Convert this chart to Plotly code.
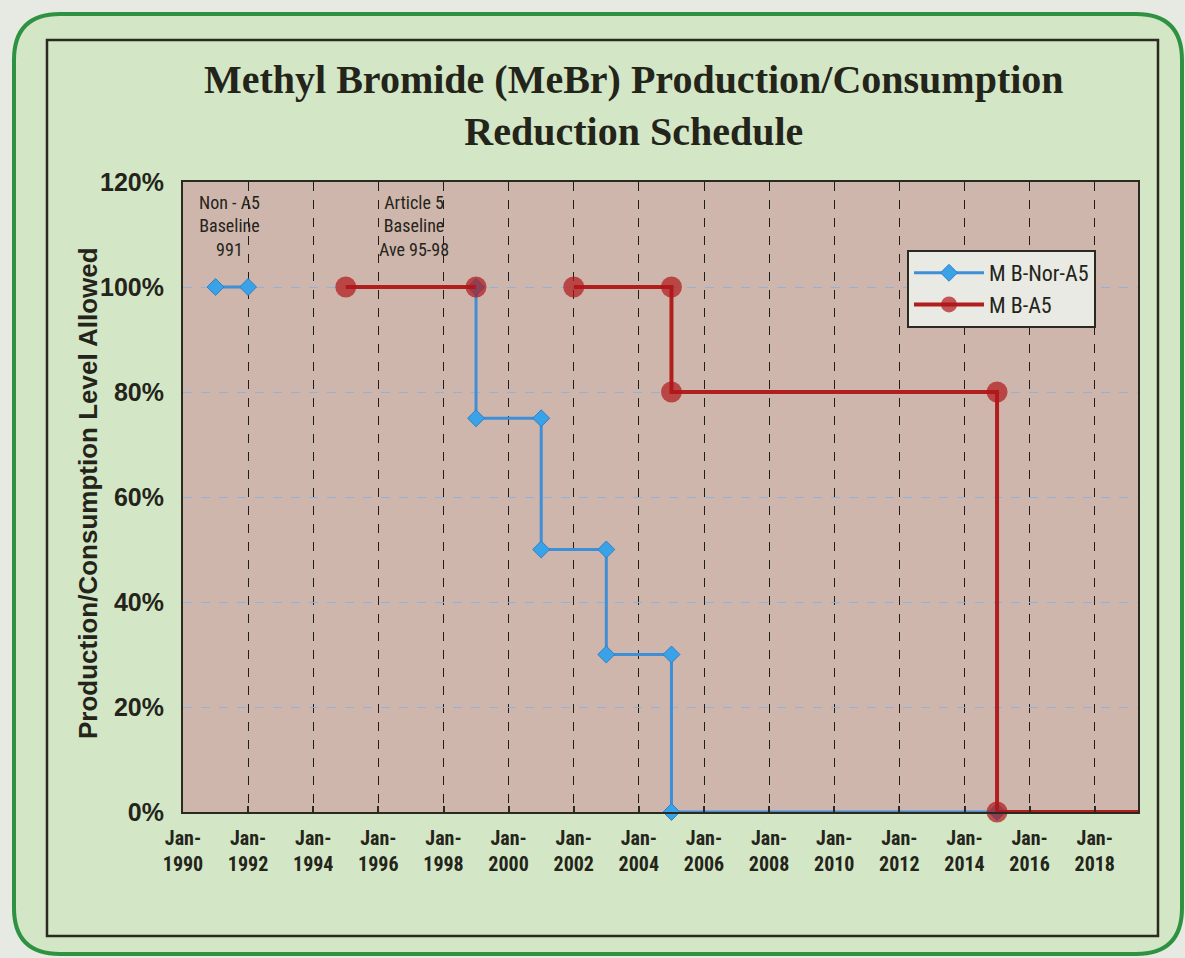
import plotly.graph_objects as go

# --- data -------------------------------------------------------------
non_a5_dates = ["1991-01-01", "1992-01-01", None,
                "1999-01-01", "1999-01-01", "2001-01-01", "2001-01-01",
                "2003-01-01", "2003-01-01", "2005-01-01", "2005-01-01",
                "2015-01-01"]
non_a5_level = [1.00, 1.00, None,
                1.00, 0.75, 0.75, 0.50,
                0.50, 0.30, 0.30, 0.00,
                0.00]

a5_dates = ["1995-01-01", "1999-01-01", None,
            "2002-01-01", "2005-01-01", "2005-01-01",
            "2015-01-01", "2015-01-01", "2019-05-01"]
a5_level = [1.00, 1.00, None,
            1.00, 1.00, 0.80,
            0.80, 0.00, 0.00]

tick_dates = ["%d-01-01" % y for y in range(1990, 2019, 2)]
tick_text = ["<b>Jan-<br>%d</b>" % y for y in range(1990, 2019, 2)]
y_ticks = [0, 0.2, 0.4, 0.6, 0.8, 1.0, 1.2]
y_text = ["0%", "20%", "40%", "60%", "80%", "100%", "120%"]

# --- geometry (pixels) ------------------------------------------------
FW, FH = 1185, 958
L, T, W, H = 183, 182, 955, 630


def px(x):
    return (x - L) / W


def py(y):
    return (T + H - y) / H


def rrect(x0, y0, x1, y1, r):
    pts = [
        ("M", [(x0 + r, y0)]), ("L", [(x1 - r, y0)]), ("Q", [(x1, y0), (x1, y0 + r)]),
        ("L", [(x1, y1 - r)]), ("Q", [(x1, y1), (x1 - r, y1)]),
        ("L", [(x0 + r, y1)]), ("Q", [(x0, y1), (x0, y1 - r)]),
        ("L", [(x0, y0 + r)]), ("Q", [(x0, y0), (x0 + r, y0)]),
    ]
    s = ""
    for cmd, coords in pts:
        s += cmd + " " + " ".join("%.5f,%.5f" % (px(a), py(b)) for a, b in coords) + " "
    return s + "Z"


NARROW = "Liberation Sans Narrow, Arial Narrow, Roboto Condensed, DejaVu Sans Condensed, sans-serif"
SANS = "Liberation Sans, Arial, sans-serif"
INK = "#24241a"

fig = go.Figure()

fig.add_trace(go.Scatter(
    x=non_a5_dates, y=non_a5_level, name="M B-Nor-A5",
    mode="lines+markers", connectgaps=False, cliponaxis=False,
    line=dict(color="#3f8ed8", width=3),
    marker=dict(symbol="diamond", size=13, color="#3aa2e6",
                line=dict(color="#2f7fc8", width=1)),
))

a5_sizes = [21, 21, 0, 21, 21, 21, 21, 21, 0]
fig.add_trace(go.Scatter(
    x=a5_dates, y=a5_level, name="M B-A5",
    mode="lines+markers", connectgaps=False, cliponaxis=False,
    line=dict(color="#b01e1e", width=4),
    marker=dict(symbol="circle", size=a5_sizes, color="#b0161a",
                line=dict(width=0)),
))

shapes = [
    # rounded green panel
    dict(type="path", xref="paper", yref="paper", layer="below",
         path=rrect(14, 14, 1182, 954, 46),
         fillcolor="#d3e7c6", line=dict(color="#2f9242", width=4)),
    # inner black frame
    dict(type="rect", xref="paper", yref="paper", layer="below",
         x0=px(47), x1=px(1158), y0=py(936), y1=py(40),
         fillcolor="rgba(0,0,0,0)", line=dict(color="#2a2a20", width=2.5)),
    # plot area fill
    dict(type="rect", xref="paper", yref="paper", layer="below",
         x0=0, x1=1, y0=0, y1=1,
         fillcolor="#cfb6ac", line=dict(width=0)),
]

annotations = [
    dict(text="<b>Methyl Bromide (MeBr) Production/Consumption<br>Reduction Schedule</b>",
         xref="paper", yref="paper", x=px(634), y=py(105),
         xanchor="center", yanchor="middle", showarrow=False,
         font=dict(family="Liberation Serif, Times New Roman, serif", size=40, color=INK)),
    dict(text="<b>Production/Consumption Level Allowed</b>",
         xref="paper", yref="paper", x=px(88), y=py(493), textangle=-90,
         xanchor="center", yanchor="middle", showarrow=False,
         font=dict(family=SANS, size=26, color=INK)),
    dict(text="Non - A5<br>Baseline<br>991",
         xref="paper", yref="paper", x=px(229), y=py(226),
         xanchor="center", yanchor="middle", showarrow=False,
         font=dict(family=NARROW, size=18, color=INK)),
    dict(text="Article 5<br>Baseline<br>Ave 95-98",
         xref="paper", yref="paper", x=px(414), y=py(226),
         xanchor="center", yanchor="middle", showarrow=False,
         font=dict(family=NARROW, size=18, color=INK)),
]

fig.update_layout(
    width=FW, height=FH,
    margin=dict(l=L, r=FW - L - W, t=T, b=FH - T - H),
    paper_bgcolor="#e7eae2", plot_bgcolor="rgba(0,0,0,0)",
    shapes=shapes, annotations=annotations,
    showlegend=True,
    legend=dict(x=px(907), y=py(250), xanchor="left", yanchor="top",
                bgcolor="#e9eae4", bordercolor="#2a2a20", borderwidth=2,
                font=dict(family=NARROW, size=22, color=INK),
                itemwidth=70, tracegroupgap=0),
)

fig.update_xaxes(
    type="date", range=["1990-01-01", "2019-05-01"],
    tickvals=tick_dates, ticktext=tick_text,
    tickfont=dict(family=NARROW, size=20, color=INK),
    ticks="inside", ticklen=6, tickcolor="#2a2a20", tickwidth=1.5,
    ticklabelstandoff=7,
    showgrid=True, gridcolor="#1e1e18", gridwidth=1.3, griddash="dash",
    showline=True, linecolor="#2a2a20", linewidth=2, mirror=True,
    zeroline=False,
)
fig.update_yaxes(
    range=[0, 1.2], tickvals=y_ticks, ticktext=["<b>%s</b>" % t for t in y_text],
    tickfont=dict(family=SANS, size=25, color=INK),
    ticks="", ticklabelstandoff=12,
    showgrid=True, gridcolor="#8fb3dc", gridwidth=1.3, griddash="dash",
    showline=True, linecolor="#2a2a20", linewidth=2, mirror=True,
    zeroline=False,
)

fig.write_html("out.html")
